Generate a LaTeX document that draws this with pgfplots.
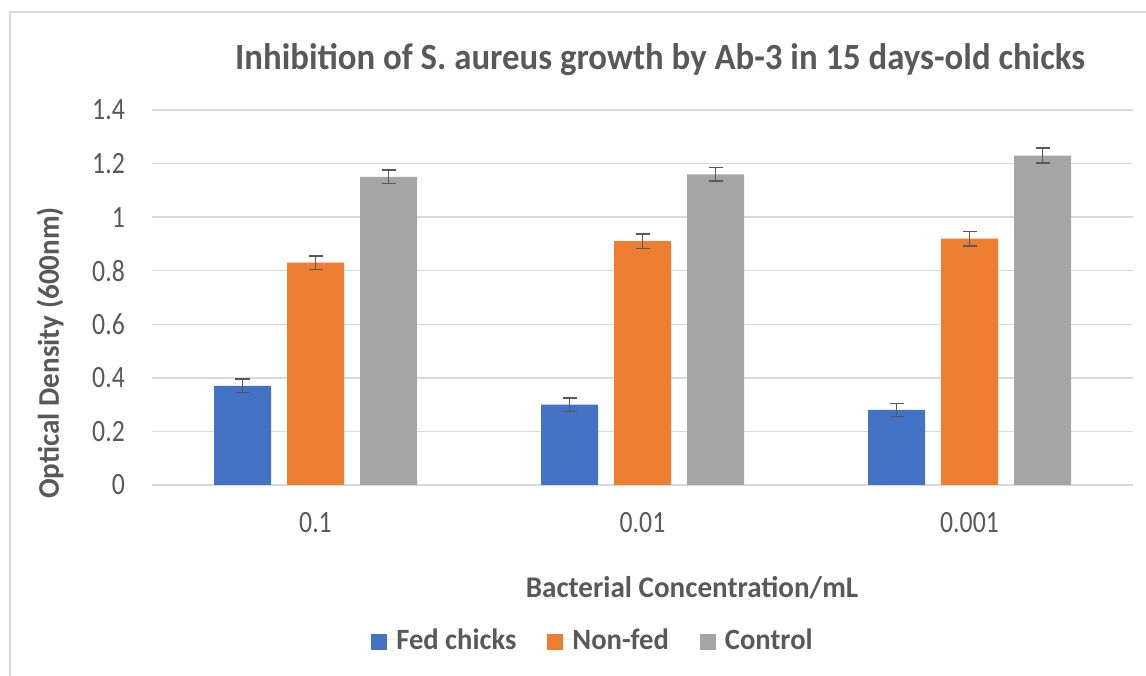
\documentclass[border=0pt]{standalone}
\usepackage{fontspec}
\setmainfont{Carlito}[FakeStretch=0.97]
\newfontfamily\tickfont{Carlito}[FakeStretch=0.83]
\newfontfamily\titlefont{Carlito}[FakeStretch=0.94]
\usepackage{pgfplots}
\pgfplotsset{compat=1.18}
\definecolor{fedc}{HTML}{4472C4}
\definecolor{nonc}{HTML}{ED7D31}
\definecolor{conc}{HTML}{A5A5A5}
\definecolor{txt}{HTML}{595959}
\definecolor{grd}{HTML}{D9D9D9}
\begin{document}
\begin{tikzpicture}[x=1bp,y=1bp]
\useasboundingbox (-152,-191) rectangle (994,485);
\draw[grd, line width=1.5bp] (-142,-195) -- (-142,473) -- (1000,473);
\begin{axis}[
  at={(0,0)}, anchor=south west,
  scale only axis, width=981bp, height=375bp,
  ymin=0, ymax=1.4, ytick={0,0.2,...,1.4},
  xmin=-0.5, xmax=2.5, xtick={0,1,2}, xticklabels={0.1,0.01,0.001},
  ymajorgrids, major grid style={draw=grd, line width=1.5bp},
  axis line style={draw=none},
  major tick length=0pt,
  ybar=16bp, bar width=57bp,
  /pgf/number format/.cd, fixed, precision=1, assume math mode=true, /pgfplots/.cd,
  tick label style={font=\tickfont\fontsize{31bp}{36bp}\selectfont, text=txt, inner sep=0pt},
  yticklabel style={anchor=east, xshift=-27bp},
  xticklabel style={anchor=base, yshift=-48bp},
  legend columns=3,
  legend style={draw=none, fill=none, at={(0.4485,-0.413)}, anchor=center,
    font=\bfseries\fontsize{29.5bp}{34bp}\selectfont, text=txt,
    /tikz/every even column/.append style={column sep=31bp},
    nodes={inner xsep=0pt, inner ysep=0pt}},
  legend image code/.code={\fill[#1] (0bp,-10bp) rectangle (16bp,6bp); \path (0bp,0bp) -- (25bp,0bp);},
  error bars/y dir=both, error bars/y explicit,
  error bars/error bar style={line width=1.6bp, draw=txt},
  error bars/error mark options={rotate=90, mark size=7bp, line width=1.6bp, draw=txt},
]
\addplot[fill=fedc, draw=none] coordinates {(0,0.37) +- (0,0.025) (1,0.30) +- (0,0.025) (2,0.28) +- (0,0.025)};
\addplot[fill=nonc, draw=none] coordinates {(0,0.83) +- (0,0.025) (1,0.91) +- (0,0.027) (2,0.92) +- (0,0.027)};
\addplot[fill=conc, draw=none] coordinates {(0,1.15) +- (0,0.025) (1,1.16) +- (0,0.025) (2,1.23) +- (0,0.027)};
\legend{Fed chicks, Non-fed, Control}
\end{axis}
\node[font=\titlefont\bfseries\fontsize{37bp}{42bp}\selectfont, text=txt] at (508,425) {Inhibition of S. aureus growth by Ab-3 in 15 days-old chicks};
\node[font=\bfseries\fontsize{30bp}{35bp}\selectfont, text=txt, rotate=90] at (-102,132) {Optical Density (600nm)};
\node[font=\bfseries\fontsize{30bp}{35bp}\selectfont, text=txt] at (540,-103) {Bacterial Concentration/mL};
\end{tikzpicture}
\end{document}
